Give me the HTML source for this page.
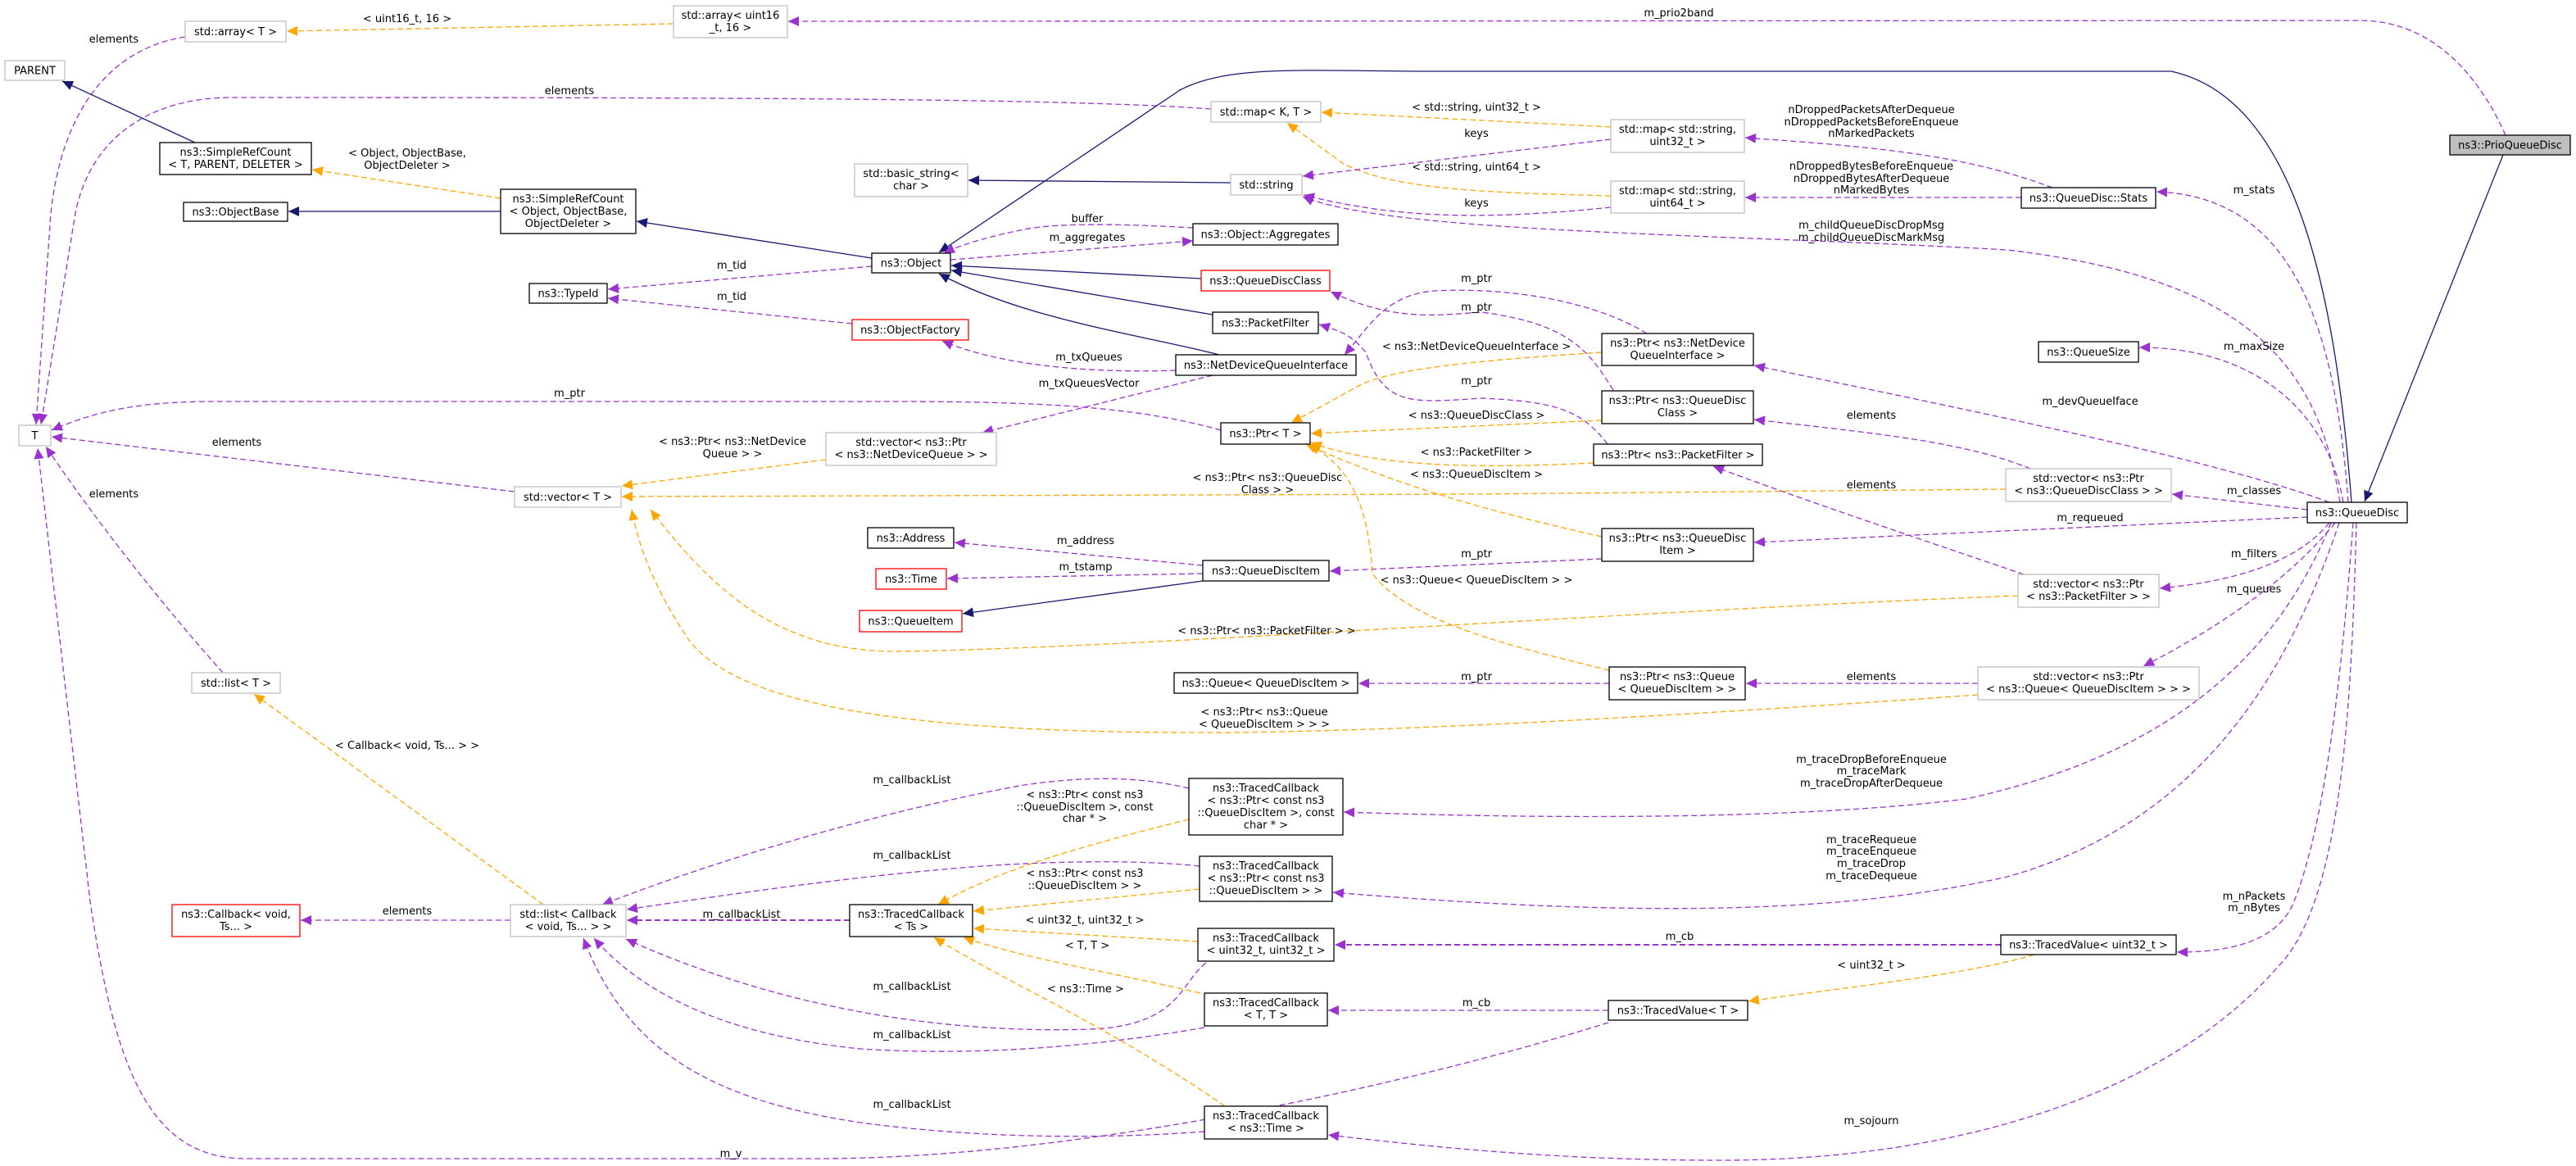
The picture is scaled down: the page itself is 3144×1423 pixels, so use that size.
<!DOCTYPE html>
<html><head><meta charset="utf-8"><style>
html,body{margin:0;padding:0;background:#fff;}
svg{display:block;font-family:"DejaVu Sans","Liberation Sans",sans-serif;}
text{font-size:13px;fill:#000;}
.g{fill:#fff;stroke:#bfbfbf;stroke-width:1.3}
.b{fill:#fff;stroke:#000;stroke-width:1.3}
.r{fill:#fff;stroke:#ff0000;stroke-width:1.3}
.p{fill:none;stroke:#9a32cd;stroke-width:1.3;stroke-dasharray:7,4}
.o{fill:none;stroke:#ffa500;stroke-width:1.3;stroke-dasharray:7,4}
.n{fill:none;stroke:#191970;stroke-width:1.3}
</style></head><body>
<svg width="3144" height="1423" viewBox="0 0 3144 1423" xmlns="http://www.w3.org/2000/svg">
<defs>
<marker id="mp" markerUnits="userSpaceOnUse" markerWidth="14" markerHeight="12" refX="13" refY="6" orient="auto"><path d="M0,0 L13,6 L0,12 z" fill="#9a32cd"/></marker>
<marker id="mo" markerUnits="userSpaceOnUse" markerWidth="14" markerHeight="12" refX="13" refY="6" orient="auto"><path d="M0,0 L13,6 L0,12 z" fill="#ffa500"/></marker>
<marker id="mn" markerUnits="userSpaceOnUse" markerWidth="14" markerHeight="12" refX="13" refY="6" orient="auto"><path d="M0,0 L13,6 L0,12 z" fill="#191970"/></marker>
</defs>

<!-- EDGES -->
<g>
<path class="o" marker-end="url(#mo)" d="M822,29 L350,38"/>
<path class="p" marker-end="url(#mp)" d="M226,45 C130,60 75,140 62,260 L44,518"/>
<path class="n" marker-end="url(#mn)" d="M238,174 L76,99"/>
<path class="o" marker-end="url(#mo)" d="M611,242 L381,207"/>
<path class="n" marker-end="url(#mn)" d="M611,258 L352,258"/>
<path class="n" marker-end="url(#mn)" d="M1064,315 L777,270"/>
<path class="p" marker-end="url(#mp)" d="M1064,325 L742,353"/>
<path class="p" marker-end="url(#mp)" d="M1040,395 L742,364"/>
<path class="p" marker-end="url(#mp)" d="M1478,133 C1300,120 900,119 280,119 C180,120 110,170 92,260 L50,518"/>
<path class="p" marker-end="url(#mp)" d="M1490,525 C1400,500 1300,490 1100,490 L260,490 C160,490 110,505 63,525"/>
<path class="p" marker-end="url(#mp)" d="M628,600 L63,533"/>
<path class="p" marker-end="url(#mp)" d="M272,821 C200,740 120,640 56,545"/>
<path class="o" marker-end="url(#mo)" d="M1008,561 L759,593"/>
<path class="o" marker-end="url(#mo)" d="M2448,597 L1800,603 L759,606"/>
<path class="o" marker-end="url(#mo)" d="M2463,727 C2000,745 1400,790 1100,795 C950,797 870,720 794,622"/>
<path class="o" marker-end="url(#mo)" d="M2414,848 C2100,870 1700,895 1450,894 C1100,893 900,860 840,780 C800,720 780,670 771,622"/>
<path class="o" marker-end="url(#mo)" d="M663,1104 L310,847"/>
<path class="p" marker-end="url(#mp)" d="M623,1123 L367,1123"/>
<path class="p" style="stroke-width:2" marker-end="url(#mp)" d="M1037,1123 L765,1123"/>
<path class="p" marker-end="url(#mp)" d="M1451,962 C1400,950 1340,945 1250,958 C1100,985 900,1040 735,1104"/>
<path class="p" marker-end="url(#mp)" d="M1464,1057 C1400,1050 1300,1050 1200,1057 C1050,1068 900,1090 765,1110"/>
<path class="p" marker-end="url(#mp)" d="M1472,1175 C1440,1200 1440,1252 1330,1256 C1150,1262 950,1230 764,1146"/>
<path class="p" marker-end="url(#mp)" d="M1470,1254 C1350,1275 1200,1290 1050,1280 C900,1265 790,1220 725,1145"/>
<path class="p" marker-end="url(#mp)" d="M1470,1381 C1350,1390 1200,1390 1050,1370 C850,1340 760,1270 712,1145"/>
<path class="p" marker-end="url(#mp)" d="M1963,1248 C1700,1330 1300,1414 1000,1414 L300,1414 C180,1414 140,1300 110,1100 L46,547"/>
<path class="o" marker-end="url(#mo)" d="M1462,1149 L1188,1133"/>
<path class="o" marker-end="url(#mo)" d="M1464,1085 L1188,1112"/>
<path class="o" marker-end="url(#mo)" d="M1451,1000 C1330,1030 1220,1060 1145,1104"/>
<path class="o" marker-end="url(#mo)" d="M1465,1212 C1350,1185 1250,1170 1176,1144"/>
<path class="o" marker-end="url(#mo)" d="M1495,1350 C1350,1250 1230,1200 1140,1144"/>
<path class="p" marker-end="url(#mp)" d="M1963,1233 L1621,1233"/>
<path class="p" style="stroke-width:2" marker-end="url(#mp)" d="M2442,1153 L1629,1153"/>
<path class="o" marker-end="url(#mo)" d="M2483,1165 C2400,1190 2250,1205 2134,1222"/>
<path class="p" marker-end="url(#mp)" d="M2872,638 C2860,800 2840,1000 2800,1100 C2780,1150 2720,1162 2657,1162"/>
<path class="p" marker-end="url(#mp)" d="M2876,638 C2870,850 2860,1100 2780,1180 C2650,1330 2400,1416 2100,1416 C1900,1416 1750,1400 1621,1385"/>
<path class="p" marker-end="url(#mp)" d="M2855,638 C2800,800 2700,1000 2450,1070 C2250,1115 2000,1120 1627,1089"/>
<path class="p" marker-end="url(#mp)" d="M2845,638 C2780,800 2650,920 2400,975 C2200,1000 1900,1000 1640,991"/>
<path class="p" marker-end="url(#mp)" d="M2850,638 C2800,700 2720,760 2616,813"/>
<path class="p" marker-end="url(#mp)" d="M2843,638 C2800,690 2720,710 2636,718"/>
<path class="p" marker-end="url(#mp)" d="M2816,631 L2141,662"/>
<path class="p" marker-end="url(#mp)" d="M2816,622 L2651,603"/>
<path class="p" marker-end="url(#mp)" d="M2843,613 C2700,560 2400,500 2141,446"/>
<path class="p" marker-end="url(#mp)" d="M2860,613 C2840,500 2750,424 2611,424"/>
<path class="p" marker-end="url(#mp)" d="M2866,613 C2850,400 2800,240 2632,234"/>
<path class="p" marker-end="url(#mp)" d="M2856,613 C2830,450 2750,340 2450,305 C2100,285 1700,285 1590,240"/>
<path class="n" marker-end="url(#mn)" d="M3055,189 L2886,612"/>
<path class="n" marker-end="url(#mn)" d="M2870,613 C2850,350 2800,120 2650,87 L1750,87 C1600,87 1500,78 1440,110 L1146,308"/>
<path class="p" marker-end="url(#mp)" d="M3058,165 C3020,80 2960,25 2880,25 L962,26"/>
<path class="n" marker-end="url(#mn)" d="M1502,223 L1182,220"/>
<path class="o" marker-end="url(#mo)" d="M1966,155 L1613,137"/>
<path class="o" marker-end="url(#mo)" d="M1966,239 C1800,235 1700,230 1640,200 L1571,150"/>
<path class="p" marker-end="url(#mp)" d="M1966,170 L1590,215"/>
<path class="p" marker-end="url(#mp)" d="M1966,253 C1800,270 1700,265 1591,238"/>
<path class="p" marker-end="url(#mp)" d="M2505,229 C2400,190 2300,180 2130,168"/>
<path class="p" marker-end="url(#mp)" d="M2467,241 L2130,241"/>
<path class="p" marker-end="url(#mp)" d="M1456,278 C1400,275 1300,270 1250,280 C1200,290 1170,300 1152,309"/>
<path class="p" marker-end="url(#mp)" d="M1160,317 L1456,294"/>
<path class="n" marker-end="url(#mn)" d="M1466,340 L1161,324"/>
<path class="n" marker-end="url(#mn)" d="M1480,384 L1161,330"/>
<path class="n" marker-end="url(#mn)" d="M1488,433 C1400,410 1250,390 1146,334"/>
<path class="p" marker-end="url(#mp)" d="M1435,452 C1350,455 1230,450 1150,416"/>
<path class="p" marker-end="url(#mp)" d="M1480,458 L1199,528"/>
<path class="p" marker-end="url(#mp)" d="M2010,407 C1950,370 1850,350 1750,355 C1690,360 1670,400 1641,433"/>
<path class="p" marker-end="url(#mp)" d="M1969,476 C1940,430 1917,395 1808,381 C1750,385 1700,392 1624,356"/>
<path class="p" marker-end="url(#mp)" d="M1962,542 C1930,500 1898,490 1808,486 C1720,492 1690,495 1667,430 C1650,410 1640,405 1610,396"/>
<path class="p" marker-end="url(#mp)" d="M1955,682 L1623,697"/>
<path class="p" marker-end="url(#mp)" d="M1964,834 L1658,834"/>
<path class="o" marker-end="url(#mo)" d="M1955,430 C1800,440 1700,450 1660,470 L1576,516"/>
<path class="o" marker-end="url(#mo)" d="M1955,513 L1600,529"/>
<path class="o" marker-end="url(#mo)" d="M1945,565 C1800,572 1680,570 1600,540"/>
<path class="o" marker-end="url(#mo)" d="M1955,655 C1800,620 1700,590 1594,542"/>
<path class="o" marker-end="url(#mo)" d="M1964,818 C1850,790 1720,760 1675,700 C1670,620 1650,570 1598,543"/>
<path class="p" marker-end="url(#mp)" d="M1468,690 L1165,662"/>
<path class="p" marker-end="url(#mp)" d="M1468,700 L1156,706"/>
<path class="n" marker-end="url(#mn)" d="M1468,709 L1175,749"/>
<path class="p" marker-end="url(#mp)" d="M2478,572 C2400,540 2300,530 2141,512"/>
<path class="p" marker-end="url(#mp)" d="M2470,701 C2350,660 2200,610 2091,569"/>
<path class="p" marker-end="url(#mp)" d="M2414,834 L2131,834"/>
</g>

<!-- EDGE LABELS -->
<g text-anchor="middle">
<text x="497" y="27">&lt; uint16_t, 16 &gt;</text>
<text x="139" y="52">elements</text>
<text x="497" y="191">&lt; Object, ObjectBase,</text><text x="497" y="206">ObjectDeleter &gt;</text>
<text x="893" y="328">m_tid</text>
<text x="893" y="366">m_tid</text>
<text x="695" y="115">elements</text>
<text x="695" y="484">m_ptr</text>
<text x="289" y="544">elements</text>
<text x="139" y="607">elements</text>
<text x="894" y="543">&lt; ns3::Ptr&lt; ns3::NetDevice</text><text x="894" y="558">Queue &gt; &gt;</text>
<text x="1547" y="587">&lt; ns3::Ptr&lt; ns3::QueueDisc</text><text x="1547" y="602">Class &gt; &gt;</text>
<text x="2284" y="596">elements</text>
<text x="1546" y="774">&lt; ns3::Ptr&lt; ns3::PacketFilter &gt; &gt;</text>
<text x="1543" y="873">&lt; ns3::Ptr&lt; ns3::Queue</text><text x="1543" y="888">&lt; QueueDiscItem &gt; &gt; &gt;</text>
<text x="497" y="914">&lt; Callback&lt; void, Ts... &gt; &gt;</text>
<text x="497" y="1116">elements</text>
<text x="905" y="1120">m_callbackList</text>
<text x="1113" y="956">m_callbackList</text>
<text x="1113" y="1048">m_callbackList</text>
<text x="1113" y="1208">m_callbackList</text>
<text x="1113" y="1267">m_callbackList</text>
<text x="1113" y="1352">m_callbackList</text>
<text x="892" y="1412">m_v</text>
<text x="1324" y="1127">&lt; uint32_t, uint32_t &gt;</text>
<text x="1324" y="1070">&lt; ns3::Ptr&lt; const ns3</text><text x="1324" y="1085">::QueueDiscItem &gt; &gt;</text>
<text x="1324" y="974">&lt; ns3::Ptr&lt; const ns3</text><text x="1324" y="989">::QueueDiscItem &gt;, const</text><text x="1324" y="1003">char * &gt;</text>
<text x="1327" y="1158">&lt; T, T &gt;</text>
<text x="1325" y="1211">&lt; ns3::Time &gt;</text>
<text x="1802" y="1228">m_cb</text>
<text x="2050" y="1147">m_cb</text>
<text x="2284" y="1182">&lt; uint32_t &gt;</text>
<text x="2751" y="1098">m_nPackets</text><text x="2751" y="1112">m_nBytes</text>
<text x="2284" y="1372">m_sojourn</text>
<text x="2284" y="1029">m_traceRequeue</text><text x="2284" y="1043">m_traceEnqueue</text><text x="2284" y="1058">m_traceDrop</text><text x="2284" y="1073">m_traceDequeue</text>
<text x="2284" y="931">m_traceDropBeforeEnqueue</text><text x="2284" y="945">m_traceMark</text><text x="2284" y="960">m_traceDropAfterDequeue</text>
<text x="2751" y="723">m_queues</text>
<text x="2751" y="680">m_filters</text>
<text x="2551" y="636">m_requeued</text>
<text x="2751" y="603">m_classes</text>
<text x="2551" y="494">m_devQueueIface</text>
<text x="2751" y="427">m_maxSize</text>
<text x="2751" y="236">m_stats</text>
<text x="2284" y="279">m_childQueueDiscDropMsg</text><text x="2284" y="294">m_childQueueDiscMarkMsg</text>
<text x="2049" y="20">m_prio2band</text>
<text x="1802" y="135">&lt; std::string, uint32_t &gt;</text>
<text x="1802" y="208">&lt; std::string, uint64_t &gt;</text>
<text x="1802" y="167">keys</text>
<text x="1802" y="252">keys</text>
<text x="2284" y="138">nDroppedPacketsAfterDequeue</text><text x="2284" y="153">nDroppedPacketsBeforeEnqueue</text><text x="2284" y="167">nMarkedPackets</text>
<text x="2284" y="207">nDroppedBytesBeforeEnqueue</text><text x="2284" y="222">nDroppedBytesAfterDequeue</text><text x="2284" y="236">nMarkedBytes</text>
<text x="1327" y="271">buffer</text>
<text x="1327" y="294">m_aggregates</text>
<text x="1329" y="440">m_txQueues</text>
<text x="1329" y="472">m_txQueuesVector</text>
<text x="1802" y="344">m_ptr</text>
<text x="1802" y="379">m_ptr</text>
<text x="1802" y="469">m_ptr</text>
<text x="1802" y="680">m_ptr</text>
<text x="1802" y="830">m_ptr</text>
<text x="1802" y="427">&lt; ns3::NetDeviceQueueInterface &gt;</text>
<text x="1802" y="511">&lt; ns3::QueueDiscClass &gt;</text>
<text x="1802" y="556">&lt; ns3::PacketFilter &gt;</text>
<text x="1802" y="583">&lt; ns3::QueueDiscItem &gt;</text>
<text x="1802" y="712">&lt; ns3::Queue&lt; QueueDiscItem &gt; &gt;</text>
<text x="1325" y="664">m_address</text>
<text x="1325" y="696">m_tstamp</text>
<text x="2284" y="511">elements</text>
<text x="2284" y="830">elements</text>
</g>

<!-- NODES -->
<g text-anchor="middle">
<rect class="g" x="226" y="26" width="123" height="25"/><text x="287.5" y="43">std::array&lt; T &gt;</text>
<rect class="g" x="822" y="7" width="139" height="39"/><text x="891.5" y="23">std::array&lt; uint16</text><text x="891.5" y="38">_t, 16 &gt;</text>
<rect class="g" x="6" y="74" width="73" height="24"/><text x="42.5" y="90.5">PARENT</text>
<rect class="b" x="195" y="174" width="185" height="39"/><text x="287.5" y="190">ns3::SimpleRefCount</text><text x="287.5" y="205">&lt; T, PARENT, DELETER &gt;</text>
<rect class="b" x="224" y="247" width="127" height="23"/><text x="287.5" y="263">ns3::ObjectBase</text>
<rect class="b" x="611" y="231" width="165" height="54"/><text x="693.5" y="247">ns3::SimpleRefCount</text><text x="693.5" y="262">&lt; Object, ObjectBase,</text><text x="693.5" y="277">ObjectDeleter &gt;</text>
<rect class="b" x="646" y="346" width="95" height="24"/><text x="693.5" y="362.5">ns3::TypeId</text>
<rect class="g" x="23" y="519" width="39" height="25"/><text x="42.5" y="536">T</text>
<rect class="g" x="628" y="594" width="130" height="25"/><text x="693" y="611">std::vector&lt; T &gt;</text>
<rect class="g" x="234" y="821" width="108" height="25"/><text x="288" y="838">std::list&lt; T &gt;</text>
<rect class="r" x="210" y="1104" width="156" height="39"/><text x="288" y="1120">ns3::Callback&lt; void,</text><text x="288" y="1135">Ts... &gt;</text>
<rect class="g" x="623" y="1104" width="141" height="39"/><text x="693.5" y="1120">std::list&lt; Callback</text><text x="693.5" y="1135">&lt; void, Ts... &gt; &gt;</text>
<rect class="b" x="1037" y="1104" width="150" height="39"/><text x="1112" y="1120">ns3::TracedCallback</text><text x="1112" y="1135">&lt; Ts &gt;</text>
<rect class="b" x="1059" y="644" width="105" height="25"/><text x="1111.5" y="661">ns3::Address</text>
<rect class="r" x="1069" y="694" width="86" height="25"/><text x="1112" y="711">ns3::Time</text>
<rect class="r" x="1049" y="745" width="125" height="26"/><text x="1111.5" y="762.5">ns3::QueueItem</text>
<rect class="r" x="1040" y="390" width="142" height="25"/><text x="1111" y="407">ns3::ObjectFactory</text>
<rect class="b" x="1064" y="309" width="96" height="24"/><text x="1112" y="325.5">ns3::Object</text>
<rect class="g" x="1043" y="200" width="138" height="40"/><text x="1112" y="216">std::basic_string&lt;</text><text x="1112" y="231">char &gt;</text>
<rect class="g" x="1008" y="528" width="208" height="40"/><text x="1112" y="544">std::vector&lt; ns3::Ptr</text><text x="1112" y="559">&lt; ns3::NetDeviceQueue &gt; &gt;</text>
<rect class="g" x="1478" y="124" width="134" height="25"/><text x="1545" y="141">std::map&lt; K, T &gt;</text>
<rect class="g" x="1502" y="213" width="87" height="25"/><text x="1545.5" y="230">std::string</text>
<rect class="b" x="1456" y="273" width="177" height="26"/><text x="1544.5" y="290.5">ns3::Object::Aggregates</text>
<rect class="r" x="1466" y="330" width="157" height="25"/><text x="1544.5" y="347">ns3::QueueDiscClass</text>
<rect class="b" x="1480" y="381" width="129" height="26"/><text x="1544.5" y="398.5">ns3::PacketFilter</text>
<rect class="b" x="1435" y="433" width="220" height="25"/><text x="1545" y="450">ns3::NetDeviceQueueInterface</text>
<rect class="b" x="1490" y="516" width="109" height="26"/><text x="1544.5" y="533.5">ns3::Ptr&lt; T &gt;</text>
<rect class="b" x="1468" y="684" width="154" height="25"/><text x="1545" y="701">ns3::QueueDiscItem</text>
<rect class="b" x="1433" y="821" width="224" height="25"/><text x="1545" y="838">ns3::Queue&lt; QueueDiscItem &gt;</text>
<rect class="b" x="1451" y="950" width="188" height="69"/><text x="1545" y="966">ns3::TracedCallback</text><text x="1545" y="981">&lt; ns3::Ptr&lt; const ns3</text><text x="1545" y="996">::QueueDiscItem &gt;, const</text><text x="1545" y="1011">char * &gt;</text>
<rect class="b" x="1464" y="1045" width="162" height="55"/><text x="1545" y="1061">ns3::TracedCallback</text><text x="1545" y="1076">&lt; ns3::Ptr&lt; const ns3</text><text x="1545" y="1091">::QueueDiscItem &gt; &gt;</text>
<rect class="b" x="1462" y="1133" width="166" height="40"/><text x="1545" y="1149">ns3::TracedCallback</text><text x="1545" y="1164">&lt; uint32_t, uint32_t &gt;</text>
<rect class="b" x="1470" y="1212" width="150" height="40"/><text x="1545" y="1228">ns3::TracedCallback</text><text x="1545" y="1243">&lt; T, T &gt;</text>
<rect class="b" x="1470" y="1350" width="150" height="40"/><text x="1545" y="1366">ns3::TracedCallback</text><text x="1545" y="1381">&lt; ns3::Time &gt;</text>
<rect class="b" x="1963" y="1221" width="170" height="24"/><text x="2048" y="1237.5">ns3::TracedValue&lt; T &gt;</text>
<rect class="g" x="1966" y="146" width="163" height="40"/><text x="2047.5" y="162">std::map&lt; std::string,</text><text x="2047.5" y="177">uint32_t &gt;</text>
<rect class="g" x="1966" y="221" width="163" height="39"/><text x="2047.5" y="237">std::map&lt; std::string,</text><text x="2047.5" y="252">uint64_t &gt;</text>
<rect class="b" x="1955" y="407" width="185" height="39"/><text x="2047.5" y="423">ns3::Ptr&lt; ns3::NetDevice</text><text x="2047.5" y="438">QueueInterface &gt;</text>
<rect class="b" x="1955" y="477" width="185" height="40"/><text x="2047.5" y="493">ns3::Ptr&lt; ns3::QueueDisc</text><text x="2047.5" y="508">Class &gt;</text>
<rect class="b" x="1945" y="542" width="206" height="26"/><text x="2048" y="559.5">ns3::Ptr&lt; ns3::PacketFilter &gt;</text>
<rect class="b" x="1955" y="645" width="185" height="40"/><text x="2047.5" y="661">ns3::Ptr&lt; ns3::QueueDisc</text><text x="2047.5" y="676">Item &gt;</text>
<rect class="b" x="1964" y="814" width="166" height="40"/><text x="2047" y="830">ns3::Ptr&lt; ns3::Queue</text><text x="2047" y="845">&lt; QueueDiscItem &gt; &gt;</text>
<rect class="b" x="2467" y="229" width="164" height="25"/><text x="2549" y="246">ns3::QueueDisc::Stats</text>
<rect x="2990" y="165" width="147" height="24" fill="#bfbfbf" stroke="#000" stroke-width="1.3"/><text x="3063.5" y="181.5">ns3::PrioQueueDisc</text>
<rect class="b" x="2488" y="417" width="122" height="25"/><text x="2549" y="434">ns3::QueueSize</text>
<rect class="g" x="2448" y="572" width="202" height="40"/><text x="2549" y="588">std::vector&lt; ns3::Ptr</text><text x="2549" y="603">&lt; ns3::QueueDiscClass &gt; &gt;</text>
<rect class="b" x="2816" y="613" width="122" height="25"/><text x="2877" y="630">ns3::QueueDisc</text>
<rect class="g" x="2463" y="701" width="172" height="40"/><text x="2549" y="717">std::vector&lt; ns3::Ptr</text><text x="2549" y="732">&lt; ns3::PacketFilter &gt; &gt;</text>
<rect class="g" x="2414" y="814" width="270" height="40"/><text x="2549" y="830">std::vector&lt; ns3::Ptr</text><text x="2549" y="845">&lt; ns3::Queue&lt; QueueDiscItem &gt; &gt; &gt;</text>
<rect class="b" x="2442" y="1141" width="214" height="24"/><text x="2549" y="1157.5">ns3::TracedValue&lt; uint32_t &gt;</text>
</g>
</svg>
</body></html>
